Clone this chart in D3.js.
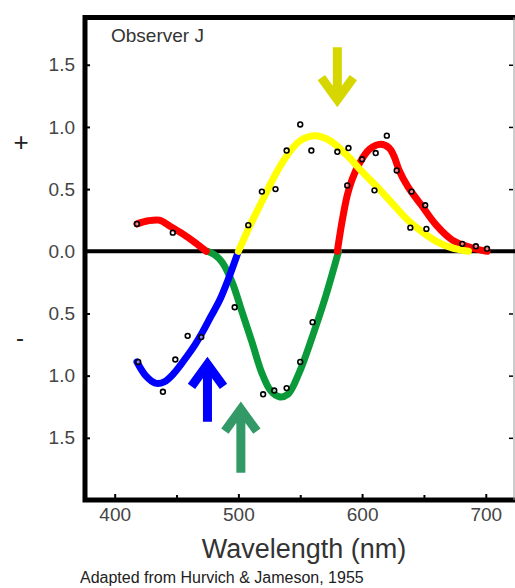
<!DOCTYPE html>
<html>
<head>
<meta charset="utf-8">
<script src="https://cdn.jsdelivr.net/npm/d3@7"></script>
<style>
  body { margin: 0; background: #fff; }
  text { font-family: "Liberation Sans", Arial, sans-serif; }
</style>
</head>
<body>
<div class="chart"></div>
<script>
// Opponent-process response curves (Observer J)
var redLeftNm   = [418, 427, 436, 445, 455, 465, 474];
var redLeftVal  = [0.22, 0.245, 0.25, 0.2, 0.14, 0.07, 0];
var redRightNm  = [580, 584, 588, 592, 598, 606, 615, 622, 626, 630, 637, 648, 660, 673, 688, 701];
var redRightVal = [0, 0.25, 0.45, 0.58, 0.71, 0.82, 0.86, 0.83, 0.76, 0.65, 0.52, 0.37, 0.21, 0.09, 0.03, 0];
var yellowNm    = [500, 510, 520, 530, 540, 550, 562, 574, 588, 600, 612, 624, 636, 648, 660, 672, 686];
var yellowVal   = [0, 0.22, 0.42, 0.62, 0.78, 0.89, 0.93, 0.89, 0.77, 0.64, 0.52, 0.39, 0.26, 0.16, 0.08, 0.03, 0];
var greenNm     = [475, 481, 487, 495, 503, 511, 519, 526, 533, 540, 549, 560, 570, 581];
var greenVal    = [0, -0.03, -0.09, -0.25, -0.49, -0.73, -0.98, -1.12, -1.17, -1.15, -0.98, -0.68, -0.38, 0];
var blueNm      = [418, 425, 433, 440, 448, 458, 465, 471, 478, 485, 492, 500];
var blueVal     = [-0.89, -1.0, -1.06, -1.05, -0.98, -0.85, -0.75, -0.65, -0.52, -0.39, -0.22, 0];

// measured points (small open circles)
var pointNm  = [418, 447, 419, 439, 449, 459, 470, 497, 520, 529, 539, 550, 560,
                508, 519, 530, 539, 550, 559, 580, 589, 588, 610,
                600, 611, 620, 628, 640, 651, 639, 652, 681, 692, 701];
var pointVal = [0.22, 0.15, -0.89, -1.13, -0.87, -0.68, -0.69, -0.45, -1.15, -1.12, -1.1, -0.89, -0.57,
                0.21, 0.48, 0.5, 0.81, 1.02, 0.81, 0.8, 0.83, 0.53, 0.49,
                0.74, 0.79, 0.93, 0.65, 0.48, 0.37, 0.19, 0.18, 0.06, 0.04, 0.02];

// arrows marking the unique hues: wavelength, tail value, tip value
var arrowNm    = [580, 475, 502];
var arrowTail  = [1.64, -1.37, -1.78];
var arrowTip   = [1.22, -0.91, -1.27];
var arrowColor = ["#d6d600", "#0000ff", "#339966"];

var yTicks = [-1.5, -1, -0.5, 0, 0.5, 1, 1.5];
var xTicks = [400, 500, 600, 700];
var xMinor = [450, 550, 650];

var svgWidth = 515;
var svgHeight = 588;

var frame = { left: 85, right: 513, top: 17.5, bottom: 500 };

var svg = d3.select(".chart")
  .append("svg")
  .attr("width", svgWidth)
  .attr("height", svgHeight)
  .style("display", "block");

svg.append("rect")
  .attr("width", svgWidth)
  .attr("height", svgHeight)
  .attr("fill", "#fff");

var x = d3.scaleLinear().domain([376, 722]).range([frame.left, frame.right]);
var y = d3.scaleLinear().domain([-2.0, 1.88]).range([frame.bottom, frame.top]);

// left axis: ticks inside, labels without minus sign
var leftAxis = d3.axisLeft(y)
  .tickValues(yTicks)
  .tickSizeInner(-5)
  .tickSizeOuter(0)
  .tickPadding(10)
  .tickFormat(d => Math.abs(d).toFixed(1));

var gLeft = svg.append("g")
  .attr("transform", `translate(${frame.left}, 0)`)
  .call(leftAxis);

gLeft.select(".domain").remove();
gLeft.selectAll("line").attr("stroke", "#000").attr("stroke-width", 2);
gLeft.selectAll("text")
  .attr("font-size", 19)
  .attr("fill", "#444");

// right axis: ticks only
var gRight = svg.append("g")
  .attr("transform", `translate(${frame.right}, 0)`)
  .call(d3.axisRight(y).tickValues(yTicks).tickSizeInner(-4).tickSizeOuter(0).tickFormat(""));
gRight.select(".domain").remove();
gRight.selectAll("line").attr("stroke", "#000").attr("stroke-width", 1.5);

// bottom axis
var gBottom = svg.append("g")
  .attr("transform", `translate(0, ${frame.bottom})`)
  .call(d3.axisBottom(x).tickValues(xTicks).tickSizeInner(-6).tickSizeOuter(0).tickPadding(8));
gBottom.select(".domain").remove();
gBottom.selectAll("line").attr("stroke", "#000").attr("stroke-width", 2);
gBottom.selectAll("text")
  .attr("font-size", 19)
  .attr("fill", "#444");

var gMinor = svg.append("g")
  .attr("transform", `translate(0, ${frame.bottom})`)
  .call(d3.axisBottom(x).tickValues(xMinor).tickSizeInner(-5).tickSizeOuter(0).tickFormat(""));
gMinor.select(".domain").remove();
gMinor.selectAll("line").attr("stroke", "#000").attr("stroke-width", 2);

// frame
svg.append("rect")
  .attr("x", frame.left)
  .attr("y", frame.top)
  .attr("width", frame.right - frame.left + 10)
  .attr("height", frame.bottom - frame.top)
  .attr("fill", "none")
  .attr("stroke", "#000")
  .attr("stroke-width", 5);

svg.append("line")
  .attr("x1", frame.right + 1)
  .attr("x2", frame.right + 1)
  .attr("y1", frame.top)
  .attr("y2", frame.bottom)
  .attr("stroke", "#999")
  .attr("stroke-width", 1);

// zero line
svg.append("line")
  .attr("x1", frame.left)
  .attr("x2", svgWidth)
  .attr("y1", y(0))
  .attr("y2", y(0))
  .attr("stroke", "#000")
  .attr("stroke-width", 4);

// curves
var line = d3.line()
  .x(d => x(d[0]))
  .y(d => y(d[1]))
  .curve(d3.curveCatmullRom.alpha(0.5));

function pairs(a, b) {
  return a.map((v, i) => [v, b[i]]);
}

var curves = [
  { pts: pairs(greenNm, greenVal), color: "#0a9a3a" },
  { pts: pairs(blueNm, blueVal), color: "#0000ff" },
  { pts: pairs(redLeftNm, redLeftVal), color: "#ff0000" },
  { pts: pairs(redRightNm, redRightVal), color: "#ff0000" },
  { pts: pairs(yellowNm, yellowVal), color: "#ffff00" }
];

svg.append("g")
  .selectAll("path")
  .data(curves)
  .enter()
  .append("path")
  .attr("d", d => line(d.pts))
  .attr("fill", "none")
  .attr("stroke", d => d.color)
  .attr("stroke-width", 7)
  .attr("stroke-linecap", "round")
  .attr("stroke-linejoin", "round");

// data points
svg.append("g")
  .selectAll("circle")
  .data(pairs(pointNm, pointVal))
  .enter()
  .append("circle")
  .attr("cx", d => x(d[0]))
  .attr("cy", d => y(d[1]))
  .attr("r", 2.4)
  .attr("fill", "#fff")
  .attr("fill-opacity", 0.5)
  .attr("stroke", "#000")
  .attr("stroke-width", 1.6);

// arrows
var arrowData = arrowNm.map((nm, i) => ({
  x: x(nm), tail: y(arrowTail[i]), tip: y(arrowTip[i]), color: arrowColor[i]
}));

svg.append("g")
  .selectAll("path")
  .data(arrowData)
  .enter()
  .append("path")
  .attr("d", function(d) {
    var dir = d.tail > d.tip ? 1 : -1; // 1 = pointing up
    var back = d.tip + dir * 22;
    return `M${d.x},${d.tail}L${d.x},${d.tip}` +
      `M${d.x - 16},${back}L${d.x},${d.tip}L${d.x + 16},${back}`;
  })
  .attr("fill", "none")
  .attr("stroke", d => d.color)
  .attr("stroke-width", 9)
  .attr("stroke-linejoin", "miter")
  .attr("stroke-linecap", "butt");

// labels
svg.append("text")
  .attr("x", 111)
  .attr("y", 42)
  .attr("font-size", 19)
  .attr("fill", "#333")
  .text("Observer J");

svg.append("text")
  .attr("x", 21)
  .attr("y", 151)
  .attr("text-anchor", "middle")
  .attr("font-size", 26)
  .attr("fill", "#222")
  .text("+");

svg.append("text")
  .attr("x", 20)
  .attr("y", 346)
  .attr("text-anchor", "middle")
  .attr("font-size", 24)
  .attr("fill", "#222")
  .text("-");

svg.append("text")
  .attr("x", 304)
  .attr("y", 558)
  .attr("text-anchor", "middle")
  .attr("font-size", 27)
  .attr("fill", "#333")
  .text("Wavelength (nm)");

svg.append("text")
  .attr("x", 80)
  .attr("y", 583)
  .attr("font-size", 16)
  .attr("fill", "#222")
  .text("Adapted from Hurvich & Jameson, 1955");
</script>
</body>
</html>
